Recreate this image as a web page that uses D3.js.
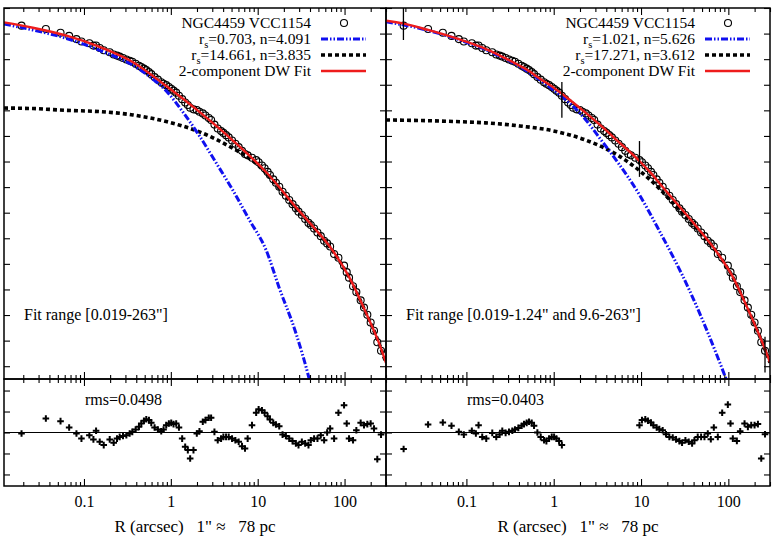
<!DOCTYPE html>
<html><head><meta charset="utf-8">
<script src="https://cdn.jsdelivr.net/npm/d3@7"></script>
<style>
body{margin:0;background:#fff}
text{font-family:"Liberation Serif","Times New Roman",serif;fill:#000}
</style>
</head><body>
<svg id="c" width="774" height="542" font-family="Liberation Serif"></svg>
<script>
// ---------- DATA ----------
const xDomain = [0.012, 300];          // R (arcsec)
const muDomain = [13, 27.5];           // surface brightness, top -> bottom
const resDomain = [-0.255, 0.255];     // residuals
const xMajorTicks = [0.1, 1, 10, 100];
const xTickLabels = ["0.1", "1", "10", "100"];

const radius = [0.0191,0.0364,0.0537,0.0675,0.0819,0.0935,0.1154,0.1284,0.1378,0.1518,
 0.1688,0.1978,0.2198,0.2401,0.2576,0.2813,0.3074,0.3356,0.36,0.3934,
 0.4295,0.4568,0.49,0.5215,0.5596,0.5953,0.65,0.7096,0.775,0.8244,
 0.885,0.949,1.01,1.074,1.152,1.24,1.35,1.462,1.569,1.669,
 1.822,1.99,2.135,2.332,2.502,2.733,2.908,3.176,3.467,3.787,
 4.027,4.322,4.637,5.065,5.532,6.04,6.598,7.143,7.663,8.596,
 9.6,10.25,11.19,12.01,13.0,13.83,15.11,16.21,17.7,19.33,
 21.11,23.06,25.18,27.51,29.5,32.23,35.2,38.44,40.89,44.6,
 48.75,53.26,58.17,63.0,68.2,75.78,85.0,98.7,105.9,112.6,
 125.2,136.7,153.3,167.4,182.9,199.7,218.2,238.2,263];

const surfaceBrightness = [13.69,13.82,13.97,14.09,14.215,14.307,14.38,14.47,14.463,14.564,
 14.652,14.732,14.82,14.86,14.90,14.954,15.01,15.061,15.10,15.18,
 15.26,15.309,15.37,15.428,15.506,15.585,15.70,15.80,15.903,15.96,
 16.015,16.087,16.154,16.231,16.309,16.429,16.563,16.693,16.79,16.90,
 16.962,16.984,17.054,17.12,17.20,17.30,17.379,17.557,17.708,17.811,
 17.881,17.97,18.058,18.178,18.308,18.439,18.584,18.706,18.758,18.855,
 18.944,19.026,19.154,19.266,19.406,19.529,19.697,19.827,19.987,20.18,
 20.339,20.503,20.667,20.83,20.96,21.091,21.246,21.40,21.48,21.619,
 21.775,21.916,22.096,22.20,22.321,22.615,22.759,23.07,23.323,23.539,
 23.877,24.103,24.426,24.71,24.991,25.291,25.617,26.066,26.397];

const residualLeft = [-0.005,0.067,0.054,0.024,-0.005,-0.029,-0.013,-0.033,0.008,-0.044,
 -0.06,-0.033,-0.049,-0.029,-0.021,-0.017,-0.013,-0.005,0.003,0.014,
 0.027,0.043,0.056,0.063,0.059,0.046,0.024,0.014,0.006,0.014,
 0.035,0.043,0.046,0.040,0.043,0.024,-0.029,-0.068,-0.084,-0.124,
 -0.084,-0.005,0.006,0.051,0.059,0.07,0.07,0.003,-0.037,-0.029,
 -0.021,-0.021,-0.021,-0.029,-0.037,-0.044,-0.065,-0.076,-0.029,0.035,
 0.094,0.111,0.106,0.094,0.078,0.062,0.046,0.038,0.030,-0.01,
 -0.017,-0.029,-0.041,-0.052,-0.06,-0.044,-0.052,-0.06,-0.037,-0.029,
 -0.029,-0.013,-0.037,0.0,0.019,-0.029,0.094,0.13,0.043,-0.029,
 -0.037,0.011,0.046,0.035,0.04,0.043,0.019,-0.127,-0.01];

const residualRight = [-0.079,0.038,0.048,0.032,0.003,-0.01,0.008,-0.005,0.035,-0.021,
 -0.029,-0.002,-0.021,-0.01,0.008,-0.002,0.003,0.008,0.014,0.022,
 0.032,0.04,0.046,0.051,0.046,0.032,0,-0.021,-0.037,-0.041,
 -0.029,-0.021,-0.021,-0.029,-0.041,-0.06,null,null,null,null,
 null,null,null,null,null,null,null,null,null,null,
 null,null,null,null,null,null,null,null,null,null,
 0.035,0.059,0.063,0.056,0.048,0.035,0.024,0.016,0.011,-0.008,
 -0.021,-0.024,-0.033,-0.041,-0.049,-0.037,-0.044,-0.052,-0.037,-0.021,
 -0.021,-0.021,-0.005,-0.032,0.024,-0.021,0.094,0.133,0.043,-0.029,
 -0.04,0.006,0.043,0.027,0.035,0.035,0.04,-0.124,-0.008];

// left panel model curves
const leftTotalR  = [0.012,0.0258,0.063,0.1518,0.363,0.886,2.135,5.11,12.46,30.0,44.6,68.2,112.6,176.5,249,300];
const leftTotalMu = [13.56,13.77,14.08,14.52,15.11,16.05,17.06,18.16,19.41,20.93,21.59,22.34,23.51,24.91,26.09,26.87];
const leftInnerR  = [0.012,0.0258,0.063,0.1518,0.363,0.569,0.886,1.373,2.135,3.32,5.15,8.01,12.46,17.7,27.5,39.1,44.6];
const leftInnerMu = [13.625,13.86,14.19,14.66,15.23,15.68,16.24,17.06,18.0,19.05,20.11,21.28,22.45,23.94,25.70,27.49,28.3];
const leftOuterR  = [0.012,0.0258,0.063,0.1518,0.366,0.886,2.135,5.15,8.01,12.55,24.96,30.0,44.6,68.2,112.6,176.5,249,300];
const leftOuterMu = [16.91,16.93,17.00,17.05,17.18,17.44,17.84,18.48,18.87,19.45,20.66,20.96,21.61,22.36,23.525,24.92,26.10,26.88];

// right panel model curves
const rightTotalR  = [0.012,0.0191,0.0364,0.0537,0.0819,0.1518,0.2576,0.3934,0.5215,0.65,0.885,1.24,2.135,3.467,5.532,9.6,13.0,17.7,27.51,44.6,75.78,112.6,153.3,218.2,267.1,300];
const rightTotalMu = [13.50,13.61,13.858,14.018,14.218,14.543,14.908,15.23,15.46,15.70,15.986,16.35,16.99,17.60,18.23,18.979,19.454,19.998,20.76,21.598,22.594,23.51,24.469,25.657,26.389,26.85];
const rightInnerR  = [0.012,0.0289,0.07,0.1688,0.407,0.9585,2.135,3.624,5.576,9.46,15.11,36.1,91.2,106.8];
const rightInnerMu = [13.535,13.793,14.16,14.64,15.293,16.164,17.219,18.234,19.094,20.266,21.516,24.055,27.375,28.0];
const rightOuterR  = [0.012,0.07,0.1643,0.407,0.984,2.312,5.576,9.385,16.79,24.96,40.2,75.78,112.6,153.3,218.2,267.1,300];
const rightOuterMu = [17.375,17.434,17.49,17.61,17.80,18.16,18.78,19.33,20.11,20.75,21.49,22.61,23.52,24.48,25.67,26.40,26.86];

// fit-range markers (right panel)
const fitMarkR  = [0.019, 1.24, 9.6, 263];
const fitMarkMu = [13.55, 16.59, 18.9, 26.55];
const fitMarkHalf = 0.7;

const legendLeft  = ["NGC4459 VCC1154", ["r","s","=0.703, n=4.091"], ["r","s","=14.661, n=3.835"], "2-component DW Fit"];
const legendRight = ["NGC4459 VCC1154", ["r","s","=1.021, n=5.626"], ["r","s","=17.271, n=3.612"], "2-component DW Fit"];
const rmsLabels = ["rms=0.0498", "rms=0.0403"];
const fitRangeLabels = ['Fit range [0.019-263"]', 'Fit range [0.019-1.24" and 9.6-263"]'];
const xTitle = 'R (arcsec)   1" \u2248   78 pc';

// ---------- DRAWING ----------
const svg = d3.select("#c");
const FONT = "Liberation Serif, Times New Roman, serif";
const yTop = 8, yMid = 379, yBot = 486;
const BLUE = "#1010f0", RED = "#ee1c1c";
const zip = (a, b) => a.map((v, i) => [v, b[i]]);

const panels = [
  {x0: 4, x1: 386, legend: legendLeft, res: residualLeft, rms: rmsLabels[0], fit: fitRangeLabels[0],
   total: zip(leftTotalR, leftTotalMu), inner: zip(leftInnerR, leftInnerMu), outer: zip(leftOuterR, leftOuterMu), marks: false},
  {x0: 386, x1: 770, legend: legendRight, res: residualRight, rms: rmsLabels[1], fit: fitRangeLabels[1],
   total: zip(rightTotalR, rightTotalMu), inner: zip(rightInnerR, rightInnerMu), outer: zip(rightOuterR, rightOuterMu), marks: true}
];

const defs = svg.append("defs");

panels.forEach((p, i) => {
  const x = d3.scaleLog().domain(xDomain).range([p.x0, p.x1]);
  const y = d3.scaleLinear().domain(muDomain).range([yTop, yMid]);
  const yr = d3.scaleLinear().domain(resDomain).range([yBot, yMid]);

  defs.append("clipPath").attr("id", "cm" + i).append("rect")
    .attr("x", p.x0).attr("y", yTop).attr("width", p.x1 - p.x0).attr("height", yMid - yTop);
  defs.append("clipPath").attr("id", "cr" + i).append("rect")
    .attr("x", p.x0).attr("y", yMid).attr("width", p.x1 - p.x0).attr("height", yBot - yMid);

  const gm = svg.append("g").attr("clip-path", `url(#cm${i})`);
  const line = d3.line().x(d => x(d[0])).y(d => y(d[1])).curve(d3.curveMonotoneX);

  // data circles
  gm.selectAll("circle.d").data(zip(radius, surfaceBrightness)).join("circle")
    .attr("cx", d => x(d[0])).attr("cy", d => y(d[1])).attr("r", 3.5)
    .attr("fill", "none").attr("stroke", "#000").attr("stroke-width", 1.1);

  gm.append("path").attr("d", line(p.outer)).attr("fill", "none")
    .attr("stroke", "#000").attr("stroke-width", 3.6).attr("stroke-dasharray", "4,3");
  gm.append("path").attr("d", line(p.inner)).attr("fill", "none")
    .attr("stroke", BLUE).attr("stroke-width", 3).attr("stroke-dasharray", "7,2,1.5,2,1.5,2");
  gm.append("path").attr("d", line(p.total)).attr("fill", "none")
    .attr("stroke", RED).attr("stroke-width", 2.4);

  if (p.marks) {
    gm.selectAll("line.mk").data(zip(fitMarkR, fitMarkMu)).join("line")
      .attr("x1", d => x(d[0])).attr("x2", d => x(d[0]))
      .attr("y1", d => y(d[1] - fitMarkHalf)).attr("y2", d => y(d[1] + fitMarkHalf))
      .attr("stroke", "#000").attr("stroke-width", 1.3);
  }

  // residual panel
  const gr = svg.append("g").attr("clip-path", `url(#cr${i})`);
  gr.append("line").attr("x1", p.x0).attr("x2", p.x1).attr("y1", yr(0)).attr("y2", yr(0))
    .attr("stroke", "#000").attr("stroke-width", 1.2);
  const pts = radius.map((r, k) => [r, p.res[k]]).filter(d => d[1] !== null);
  const pl = gr.selectAll("g.pl").data(pts).join("g")
    .attr("transform", d => `translate(${x(d[0])},${yr(d[1])})`);
  pl.append("path").attr("d", "M-3.3,0H3.3M0,-3.3V3.3").attr("stroke", "#000").attr("stroke-width", 2);

  // axes (inward ticks)
  const minor = x.ticks().filter(v => !xMajorTicks.some(m => Math.abs(m - v) / m < 1e-6));
  const noLab = () => "";
  const addX = (ypos, dir, labels) => {
    const mk = dir > 0 ? d3.axisBottom : d3.axisTop;
    const gMaj = svg.append("g").attr("transform", `translate(0,${ypos})`)
      .call(mk(x).tickValues(xMajorTicks).tickSize(-7).tickPadding(labels ? 10 : 3)
        .tickFormat(labels ? ((d, k) => xTickLabels[k]) : noLab));
    const gMin = svg.append("g").attr("transform", `translate(0,${ypos})`)
      .call(mk(x).tickValues(minor).tickSize(-4).tickFormat(noLab));
    [gMaj, gMin].forEach(g => { g.select(".domain").remove(); g.selectAll("line").attr("stroke-width", 1.1); g.attr("font-family", FONT); });
    if (labels) gMaj.selectAll("text").attr("font-size", 16).attr("font-family", FONT);
  };
  addX(yTop, -1, false);
  addX(yMid, 1, false);
  addX(yMid, -1, false);
  addX(yBot, 1, true);

  const addY = (scale, xpos, left, vals) => {
    const mk = left ? d3.axisLeft : d3.axisRight;
    const g = svg.append("g").attr("transform", `translate(${xpos},0)`)
      .call(mk(scale).tickValues(vals).tickSize(-6).tickFormat(noLab));
    g.select(".domain").remove();
    g.selectAll("line").attr("stroke-width", 1.1);
  };
  addY(y, p.x0, true, y.ticks(15));
  addY(y, p.x1, false, y.ticks(15));
  addY(yr, p.x0, true, yr.ticks(5));
  addY(yr, p.x1, false, yr.ticks(5));

  // frames
  svg.append("rect").attr("x", p.x0).attr("y", yTop).attr("width", p.x1 - p.x0).attr("height", yMid - yTop)
    .attr("fill", "none").attr("stroke", "#000").attr("stroke-width", 1.5);
  svg.append("rect").attr("x", p.x0).attr("y", yMid).attr("width", p.x1 - p.x0).attr("height", yBot - yMid)
    .attr("fill", "none").attr("stroke", "#000").attr("stroke-width", 1.5);

  // legend
  const lg = svg.append("g");
  const baselines = [28, 44, 60, 76];
  const textX = p.x1 - 75;
  p.legend.forEach((item, k) => {
    const t = lg.append("text").attr("x", textX).attr("y", baselines[k]).attr("text-anchor", "end")
      .attr("font-size", 15.5).attr("font-family", FONT);
    if (Array.isArray(item)) {
      t.append("tspan").text(item[0]);
      t.append("tspan").attr("font-size", 10.5).attr("dy", 4).text(item[1]);
      t.append("tspan").attr("dy", -4).text(item[2]);
    } else t.text(item);
  });
  const sy = k => baselines[k] - 5;
  lg.append("circle").attr("cx", p.x1 - 42).attr("cy", sy(0)).attr("r", 3.5)
    .attr("fill", "none").attr("stroke", "#000").attr("stroke-width", 1.1);
  lg.append("line").attr("x1", p.x1 - 65).attr("x2", p.x1 - 20).attr("y1", sy(1)).attr("y2", sy(1))
    .attr("stroke", BLUE).attr("stroke-width", 3).attr("stroke-dasharray", "7,2,1.5,2,1.5,2");
  lg.append("line").attr("x1", p.x1 - 65).attr("x2", p.x1 - 20).attr("y1", sy(2)).attr("y2", sy(2))
    .attr("stroke", "#000").attr("stroke-width", 3.6).attr("stroke-dasharray", "4,3");
  lg.append("line").attr("x1", p.x1 - 65).attr("x2", p.x1 - 20).attr("y1", sy(3)).attr("y2", sy(3))
    .attr("stroke", RED).attr("stroke-width", 2.4);

  // annotations
  svg.append("text").attr("x", p.x0 + 20).attr("y", 320).attr("font-size", 16).attr("font-family", FONT).text(p.fit);
  svg.append("text").attr("x", p.x0 + 81).attr("y", 405).attr("font-size", 16).attr("font-family", FONT).text(p.rms);
  svg.append("text").attr("x", (p.x0 + p.x1) / 2).attr("y", 532).attr("text-anchor", "middle")
    .attr("font-size", 17).attr("font-family", FONT).attr("xml:space", "preserve")
    .style("white-space", "pre").text(xTitle);
});
</script>
</body></html>
